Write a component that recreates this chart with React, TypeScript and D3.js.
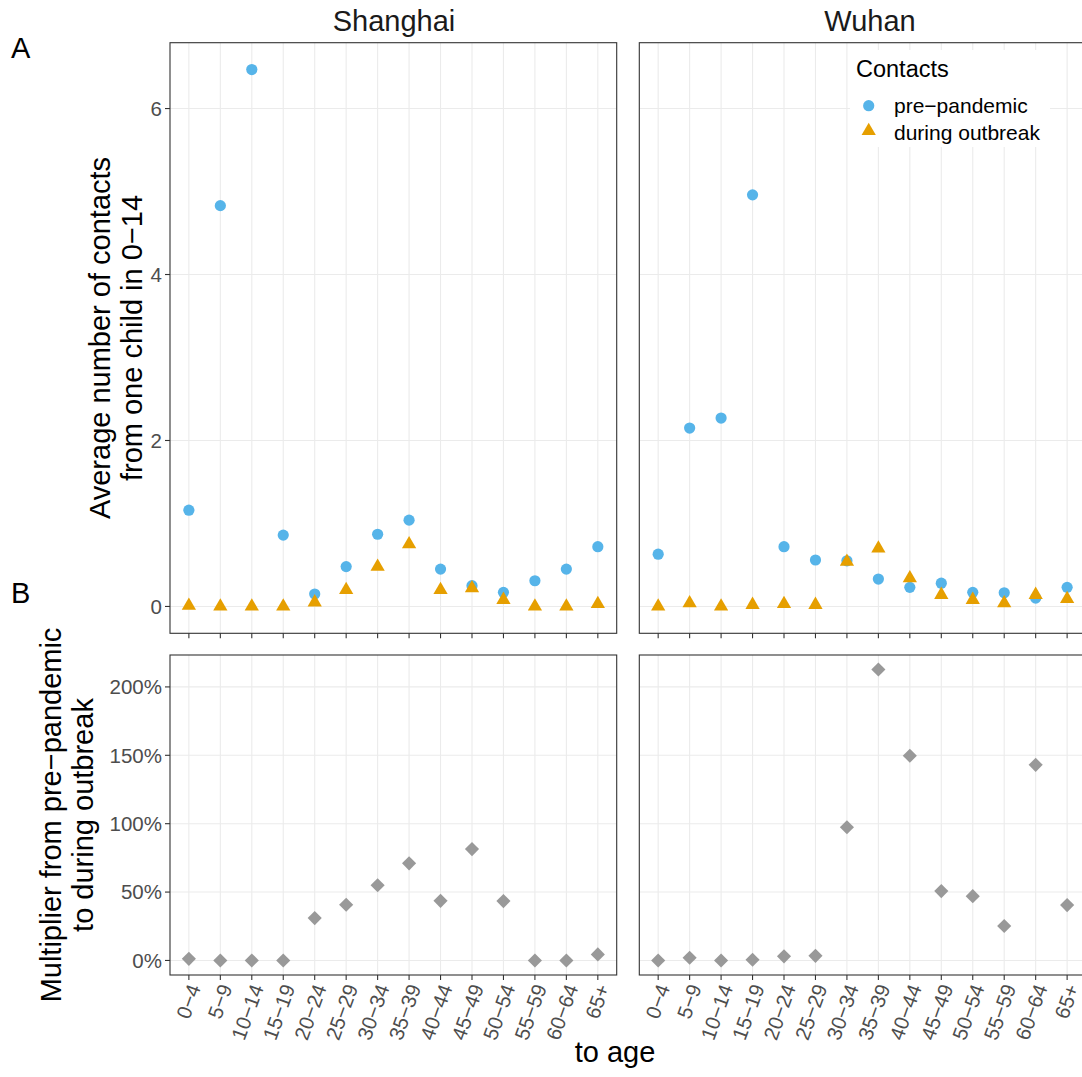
import React from 'react';
import * as d3 from 'd3';

// age groups on the x axis
const ageGroups = ['0−4', '5−9', '10−14', '15−19', '20−24', '25−29', '30−34', '35−39', '40−44', '45−49', '50−54', '55−59', '60−64', '65+'];
const cities = ['Shanghai', 'Wuhan'];

// average contacts from one child aged 0-14
const shanghaiPre = [1.16, 4.83, 6.47, 0.86, 0.15, 0.48, 0.87, 1.04, 0.45, 0.25, 0.17, 0.31, 0.45, 0.72];
const shanghaiDuring = [0.01, 0.0, 0.0, 0.0, 0.05, 0.2, 0.48, 0.75, 0.2, 0.22, 0.08, 0.0, 0.0, 0.03];
const wuhanPre = [0.63, 2.15, 2.27, 4.96, 0.72, 0.56, 0.55, 0.33, 0.23, 0.28, 0.17, 0.165, 0.1, 0.23];
const wuhanDuring = [0.0, 0.04, 0.0, 0.02, 0.03, 0.02, 0.54, 0.7, 0.34, 0.14, 0.08, 0.04, 0.14, 0.09];

// multiplier from pre-pandemic to during outbreak
const shanghaiMult = [0.012, 0.0, 0.0, 0.0, 0.31, 0.407, 0.55, 0.71, 0.436, 0.814, 0.434, 0.0, 0.0, 0.044];
const wuhanMult = [0.0, 0.02, 0.0, 0.005, 0.03, 0.034, 0.974, 2.127, 1.497, 0.507, 0.47, 0.252, 1.43, 0.405];

const contactTicks = [0, 2, 4, 6];
const multTicks = [0, 0.5, 1, 1.5, 2];

const FONT = '"Liberation Sans", Arial, Helvetica, sans-serif';
const BLUE = '#56B4E9';
const ORANGE = '#E69F00';
const GREY = '#999999';
const GRID = '#EBEBEB';
const DARK = '#333333';
const TICKTXT = '#4D4D4D';

const W = 1082;
const H = 1077;

const colX: [number, number][] = [[170, 616.7], [639.3, 1086]];
const stripX = [394, 870];
const topY: [number, number] = [42.7, 633.3];
const botY: [number, number] = [655, 975];

function expand(lo: number, hi: number): [number, number] {
  const pad = (hi - lo) * 0.05;
  return [lo - pad, hi + pad];
}

const circle = d3.symbol().type(d3.symbolCircle).size(Math.PI * 5.6 * 5.6)();
const triangle = d3.symbol().type(d3.symbolTriangle).size(88)();
const diamond = d3.symbol().type(d3.symbolSquare).size(100)();

export default function App() {
  const allContacts = [...shanghaiPre, ...shanghaiDuring, ...wuhanPre, ...wuhanDuring];
  const yTop = d3.scaleLinear()
    .domain(expand(d3.min(allContacts)!, d3.max(allContacts)!))
    .range([topY[1], topY[0]]);
  const allMult = [...shanghaiMult, ...wuhanMult];
  const yBot = d3.scaleLinear()
    .domain(expand(d3.min(allMult)!, d3.max(allMult)!))
    .range([botY[1], botY[0]]);
  const pct = d3.format('.0%');

  const xScales = colX.map(r => d3.scalePoint<string>().domain(ageGroups).range(r).padding(0.6));
  const preData = [shanghaiPre, wuhanPre];
  const duringData = [shanghaiDuring, wuhanDuring];
  const multData = [shanghaiMult, wuhanMult];

  return (
    <svg width={W} height={H} style={{ position: 'absolute', left: 0, top: 0, fontFamily: FONT }}>
      <rect width={W} height={H} fill="white" />
      <defs>
        {colX.map((r, i) => (
          <React.Fragment key={i}>
            <clipPath id={`clipTop${i}`}><rect x={r[0]} y={topY[0]} width={r[1] - r[0]} height={topY[1] - topY[0]} /></clipPath>
            <clipPath id={`clipBot${i}`}><rect x={r[0]} y={botY[0]} width={r[1] - r[0]} height={botY[1] - botY[0]} /></clipPath>
          </React.Fragment>
        ))}
      </defs>

      {cities.map((city, ci) => {
        const x = xScales[ci];
        const [x0, x1] = colX[ci];
        return (
          <g key={city}>
            {/* strip label */}
            <text x={stripX[ci]} y={31} fontSize={29} textAnchor="middle" fill="#1A1A1A">{city}</text>

            {/* top panel */}
            <g clipPath={`url(#clipTop${ci})`}>
              {ageGroups.map(a => (
                <line key={a} x1={x(a)} x2={x(a)} y1={topY[0]} y2={topY[1]} stroke={GRID} strokeWidth={1.1} />
              ))}
              {contactTicks.map(t => (
                <line key={t} x1={x0} x2={x1} y1={yTop(t)} y2={yTop(t)} stroke={GRID} strokeWidth={1.1} />
              ))}
              {ci === 1 && (
                <g>
                  <rect x={850} y={50} width={200} height={97} fill="white" />
                  <text x={856} y={77} fontSize={23.5} fill="#000">Contacts</text>
                  <path d={circle!} transform="translate(868.7,105.7)" fill={BLUE} />
                  <text x={894} y={113} fontSize={21} fill="#000">pre−pandemic</text>
                  <path d={triangle!} transform="translate(868.7,131)" fill={ORANGE} />
                  <text x={894} y={140} fontSize={21} fill="#000">during outbreak</text>
                </g>
              )}
              {preData[ci].map((v, i) => (
                <path key={`p${i}`} d={circle!} transform={`translate(${x(ageGroups[i])},${yTop(v)})`} fill={BLUE} />
              ))}
              {duringData[ci].map((v, i) => (
                <path key={`d${i}`} d={triangle!} transform={`translate(${x(ageGroups[i])},${yTop(v)})`} fill={ORANGE} />
              ))}
            </g>
            <rect x={x0} y={topY[0]} width={x1 - x0} height={topY[1] - topY[0]} fill="none" stroke={DARK} strokeWidth={1.1} />
            {ageGroups.map(a => (
              <line key={a} x1={x(a)} x2={x(a)} y1={topY[1]} y2={topY[1] + 5} stroke={DARK} strokeWidth={1.1} />
            ))}

            {/* bottom panel */}
            <g clipPath={`url(#clipBot${ci})`}>
              {ageGroups.map(a => (
                <line key={a} x1={x(a)} x2={x(a)} y1={botY[0]} y2={botY[1]} stroke={GRID} strokeWidth={1.1} />
              ))}
              {multTicks.map(t => (
                <line key={t} x1={x0} x2={x1} y1={yBot(t)} y2={yBot(t)} stroke={GRID} strokeWidth={1.1} />
              ))}
              {multData[ci].map((v, i) => (
                <path key={i} d={diamond!} transform={`translate(${x(ageGroups[i])},${yBot(v)}) rotate(45)`} fill={GREY} />
              ))}
            </g>
            <rect x={x0} y={botY[0]} width={x1 - x0} height={botY[1] - botY[0]} fill="none" stroke={DARK} strokeWidth={1.1} />
            {ageGroups.map(a => (
              <g key={a}>
                <line x1={x(a)} x2={x(a)} y1={botY[1]} y2={botY[1] + 5} stroke={DARK} strokeWidth={1.1} />
                <text transform={`translate(${x(a)! + 5.5},${botY[1] + 10}) rotate(-70)`} textAnchor="end" dy="0.35em" fontSize={20.5} fill={TICKTXT}>{a}</text>
              </g>
            ))}
          </g>
        );
      })}

      {/* y axes on the left column */}
      {contactTicks.map(t => (
        <g key={t}>
          <line x1={colX[0][0] - 5} x2={colX[0][0]} y1={yTop(t)} y2={yTop(t)} stroke={DARK} strokeWidth={1.1} />
          <text x={colX[0][0] - 8} y={yTop(t)} dy="0.36em" textAnchor="end" fontSize={20.5} fill={TICKTXT}>{t}</text>
        </g>
      ))}
      {multTicks.map(t => (
        <g key={t}>
          <line x1={colX[0][0] - 5} x2={colX[0][0]} y1={yBot(t)} y2={yBot(t)} stroke={DARK} strokeWidth={1.1} />
          <text x={colX[0][0] - 8} y={yBot(t)} dy="0.36em" textAnchor="end" fontSize={20.5} fill={TICKTXT}>{pct(t)}</text>
        </g>
      ))}

      {/* axis titles */}
      <g transform={`translate(110,${(topY[0] + topY[1]) / 2}) rotate(-90)`}>
        <text x={0} y={0} textAnchor="middle" fontSize={29} fill="#000">Average number of contacts</text>
        <text x={0} y={32} textAnchor="middle" fontSize={29} fill="#000">from one child in 0−14</text>
      </g>
      <g transform={`translate(61,${(botY[0] + botY[1]) / 2}) rotate(-90)`}>
        <text x={0} y={0} textAnchor="middle" fontSize={29} fill="#000">Multiplier from pre−pandemic</text>
        <text x={0} y={32} textAnchor="middle" fontSize={29} fill="#000">to during outbreak</text>
      </g>
      <text x={615} y={1062} textAnchor="middle" fontSize={29} fill="#000">to age</text>

      {/* panel tags */}
      <text x={11} y={58} fontSize={29} fill="#000">A</text>
      <text x={11} y={603} fontSize={29} fill="#000">B</text>
    </svg>
  );
}
